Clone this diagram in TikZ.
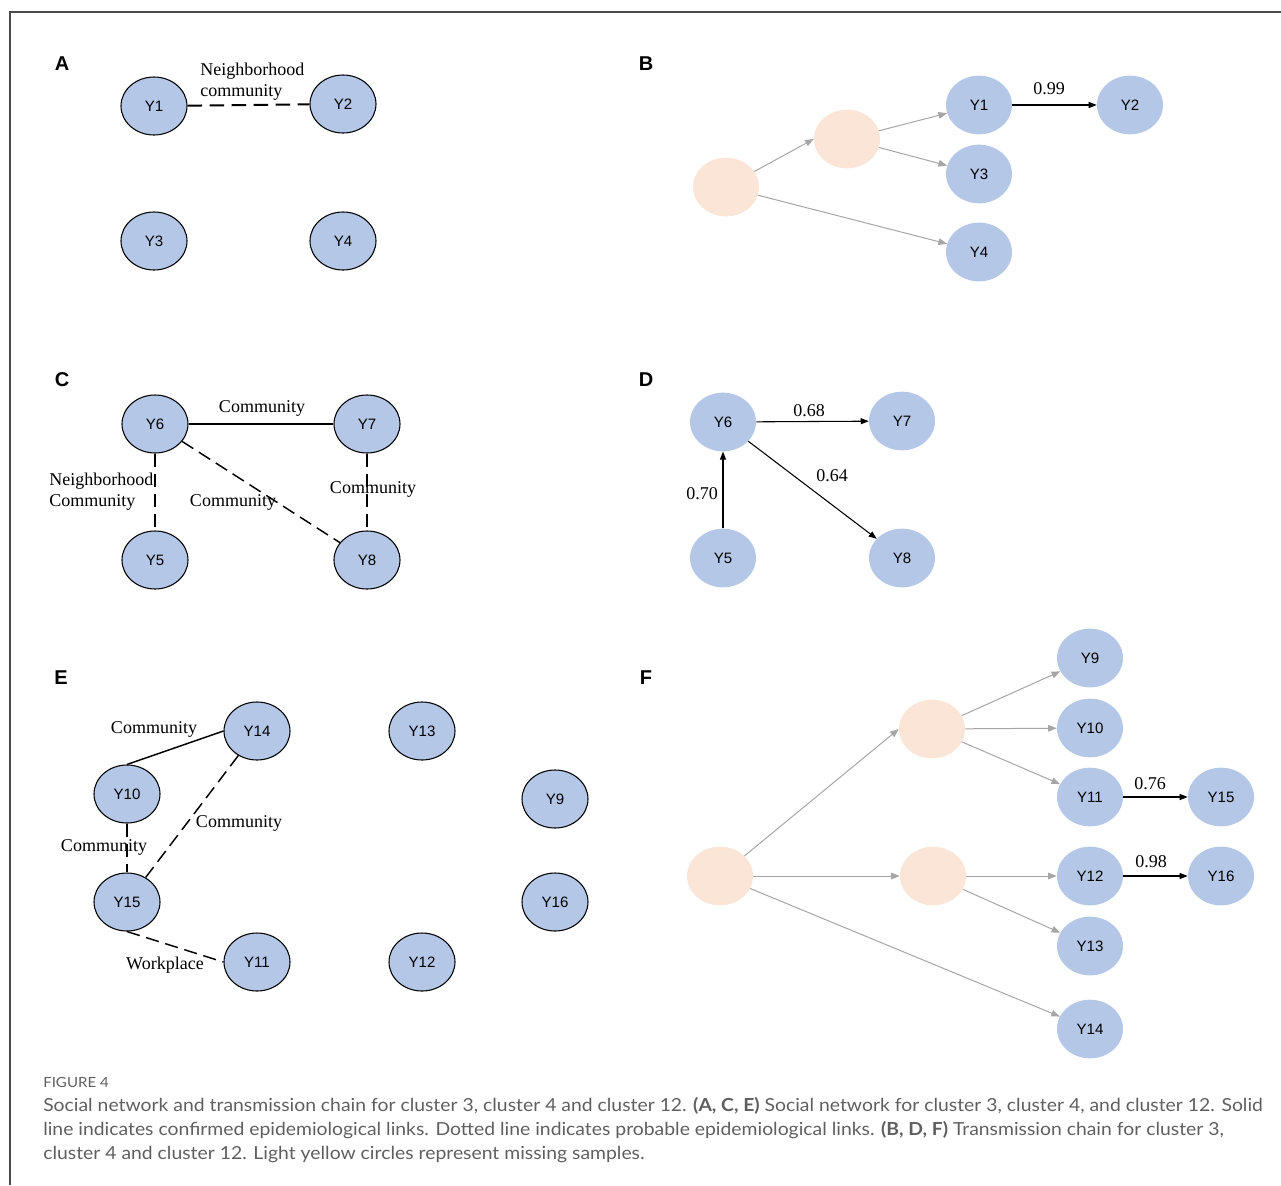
\documentclass[tikz,border=0pt]{standalone}
\usepackage{fontspec}
\setmainfont{Liberation Serif}
\setsansfont{Liberation Sans}
\newfontfamily\capfont[FakeStretch=1.075]{Lato}
\usetikzlibrary{arrows.meta,shapes.geometric}
\definecolor{nodeblue}{HTML}{B4C7E7}
\definecolor{peach}{HTML}{FBE5D6}
\definecolor{arrgray}{HTML}{A6A6A6}
\definecolor{capgray}{HTML}{5F5F5F}
\definecolor{framegray}{HTML}{4A4A4A}
\begin{document}
\begin{tikzpicture}[x=0.75pt,y=-0.75pt,
  bnode/.style={ellipse,draw=black,line width=0.8pt,fill=nodeblue,minimum width=49.5pt,minimum height=43.5pt,inner sep=0pt,font=\sffamily\fontsize{11.3}{13}\selectfont},
  cnode/.style={ellipse,fill=nodeblue,minimum width=49.5pt,minimum height=44pt,inner sep=0pt,font=\sffamily\fontsize{11.3}{13}\selectfont},
  pnode/.style={ellipse,fill=peach,minimum width=49.5pt,minimum height=44pt,inner sep=0pt},
  lbl/.style={font=\fontsize{13.5}{15.75}\selectfont,inner sep=0pt},
  panel/.style={font=\sffamily\bfseries\fontsize{15}{17}\selectfont,inner sep=0pt},
  soc/.style={line width=1.1pt},
  dsh/.style={line width=1.1pt,dash pattern=on 10pt off 5pt},
  garr/.style={draw=arrgray,line width=0.75pt,-{Triangle[length=6.5pt,width=5pt]}},
  barr/.style={draw=black,line width=0.8pt,-{Triangle[length=6pt,width=4.5pt]}},
  captext/.style={anchor=base west,inner sep=0pt,text=capgray,font=\capfont\fontsize{13.5}{15}\selectfont}
]
\useasboundingbox (0,0) rectangle (1281,1185);
% frame
\coordinate (fbl) at (10,1185);
\coordinate (ftl) at (10,12);
\coordinate (ftr) at (1281,12);
\draw[framegray,line width=1.1pt] (fbl) -- (ftl) -- (ftr);

% ---------- Panel A ----------
\node[panel] (lA) at (62,64) {A};
\node[bnode] (a1) at (154,106) {Y1};
\node[bnode] (a2) at (343,104) {Y2};
\node[bnode] (a3) at (154,241) {Y3};
\node[bnode] (a4) at (343,241) {Y4};
\draw[line width=1.5pt,dash pattern=on 11pt off 5.5pt] (a1) -- (a2);
\node[lbl,align=left,anchor=west] (laa) at (200,82) {Neighborhood\\community};

% ---------- Panel B ----------
\node[panel] (lB) at (646,64) {B};
\node[pnode] (bp1) at (726,187) {};
\node[pnode] (bp2) at (847,139) {};
\node[cnode] (b1) at (979,105) {Y1};
\node[cnode] (b2) at (1130,105) {Y2};
\node[cnode] (b3) at (979,174) {Y3};
\node[cnode] (b4) at (979,252) {Y4};
\draw[garr] (bp1) -- (bp2.west);
\draw[garr] (bp2) -- (b1);
\draw[garr] (bp2) -- (b3);
\draw[garr] (bp1) -- (b4);
\draw[barr] (b1) -- (b2);
\node[lbl] (lb12) at (1049,89) {0.99};

% ---------- Panel C ----------
\node[panel] (lC) at (62,380) {C};
\node[bnode] (c6) at (155,424) {Y6};
\node[bnode] (c7) at (367,424) {Y7};
\node[bnode] (c5) at (155,560) {Y5};
\node[bnode] (c8) at (367,560) {Y8};
\draw[soc] (c6) -- (c7);
\draw[dsh] (c6) -- (c5);
\draw[dsh] (c6) -- (c8);
\draw[dsh] (c7) -- (c8);
\node[lbl] (lc67) at (262,408) {Community};
\node[lbl,align=left,anchor=west] (lc65) at (49,492) {Neighborhood\\Community};
\node[lbl] (lc68) at (233,502) {Community};
\node[lbl] (lc78) at (373,489) {Community};

% ---------- Panel D ----------
\node[panel] (lD) at (646,380) {D};
\node[cnode] (d6) at (723,422) {Y6};
\node[cnode] (d7) at (902,421) {Y7};
\node[cnode] (d5) at (723,558) {Y5};
\node[cnode] (d8) at (902,558) {Y8};
\draw[barr] (d6) -- (d7);
\draw[barr] (d6) -- (d8);
\draw[barr] (d5) -- (d6);
\node[lbl] (ld67) at (809,411) {0.68};
\node[lbl] (ld68) at (832,476) {0.64};
\node[lbl] (ld56) at (702,494) {0.70};

% ---------- Panel E ----------
\node[panel] (lE) at (61,678) {E};
\node[bnode] (e14) at (257,731) {Y14};
\node[bnode] (e13) at (422,731) {Y13};
\node[bnode] (e10) at (127,794) {Y10};
\node[bnode] (e9) at (555,799) {Y9};
\node[bnode] (e15) at (127,902) {Y15};
\node[bnode] (e16) at (555,902) {Y16};
\node[bnode] (e11) at (257,962) {Y11};
\node[bnode] (e12) at (422,962) {Y12};
\draw[soc] (e10.north) -- (e14.west);
\draw[dsh] (e10) -- (e15);
\draw[dsh] (e14) -- (e15);
\draw[dsh] (e15.south) -- (e11.west);
\node[lbl] (le1014) at (154,729) {Community};
\node[lbl] (le1415) at (239,823) {Community};
\node[lbl] (le1015) at (104,847) {Community};
\node[lbl] (le1511) at (165,965) {Workplace};

% ---------- Panel F ----------
\node[panel] (lF) at (646,678) {F};
\node[pnode] (fp1) at (720,876) {};
\node[pnode] (fp2) at (932,729) {};
\node[pnode] (fp3) at (933,876) {};
\node[cnode] (f9) at (1090,658) {Y9};
\node[cnode] (f10) at (1090,728) {Y10};
\node[cnode] (f11) at (1090,797) {Y11};
\node[cnode] (f12) at (1090,876) {Y12};
\node[cnode] (f13) at (1090,946) {Y13};
\node[cnode] (f14) at (1090,1029) {Y14};
\node[cnode] (f15) at (1221,797) {Y15};
\node[cnode] (f16) at (1221,876) {Y16};
\draw[garr] (fp1) -- (fp2.west);
\draw[garr] (fp1) -- (fp3);
\draw[garr] (fp1) -- (f14);
\draw[garr] (fp2) -- (f9);
\draw[garr] (fp2) -- (f10);
\draw[garr] (fp2) -- (f11);
\draw[garr] (fp3) -- (f12);
\draw[garr] (fp3) -- (f13);
\draw[barr] (f11) -- (f15);
\draw[barr] (f12) -- (f16);
\node[lbl] (lf1115) at (1150,784) {0.76};
\node[lbl] (lf1216) at (1151,862) {0.98};

% ---------- Caption ----------
\node[anchor=base west,inner sep=0pt,text=capgray,font=\capfont\fontsize{10.5}{12}\selectfont] (fig) at (43,1087) {FIGURE 4};
\node[captext] (cap1) at (43,1111) {Social network and transmission chain for cluster 3, cluster 4 and cluster 12. \textbf{(A, C, E)} Social network for cluster 3, cluster 4, and cluster 12. Solid};
\node[captext] (cap2) at (43,1135) {line indicates confirmed epidemiological links. Dotted line indicates probable epidemiological links. \textbf{(B, D, F)} Transmission chain for cluster 3,};
\node[captext] (cap3) at (43,1159) {cluster 4 and cluster 12. Light yellow circles represent missing samples.};
\end{tikzpicture}
\end{document}
